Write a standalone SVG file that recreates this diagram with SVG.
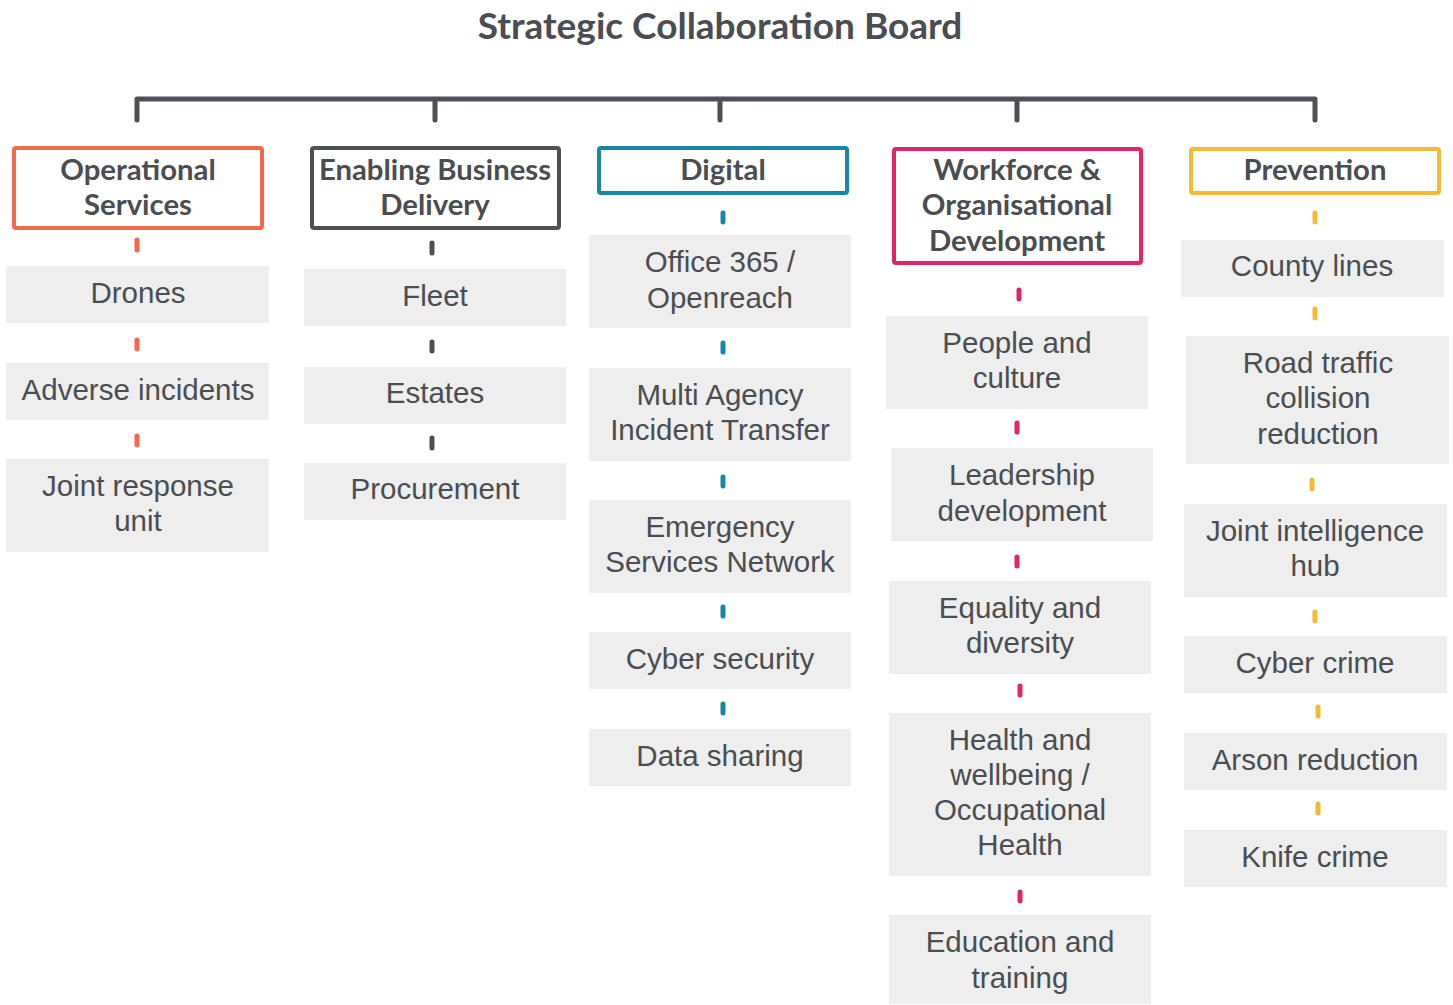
<svg xmlns="http://www.w3.org/2000/svg" width="1453" height="1005" viewBox="0 0 1453 1005">
<style>
.title{font-family:Lato,"Open Sans",sans-serif;font-weight:700;font-size:37px;fill:#4a4d51;text-anchor:middle}
.hd{font-family:Lato,"Open Sans",sans-serif;font-weight:700;font-size:29.3px;fill:#4a4d51;text-anchor:middle}
.hbox{fill:#fff;stroke-width:4}
.item{fill:#eeeeee}
.it{font-family:"Liberation Sans",Arial,sans-serif;font-size:29.5px;fill:#4a4d51;text-anchor:middle}
.dash{stroke-width:5;stroke-linecap:round;fill:none}
.c1{stroke:#f26a4b}.c2{stroke:#4d5054}.c3{stroke:#1a86a5}.c4{stroke:#e0256a}.c5{stroke:#f1ba37}
</style>
<text class="title" x="720" y="39">Strategic Collaboration Board</text>
<g id="connectors">
<path d="M137,120 V99 H1315 V120 M435,99 V120 M720,99 V120 M1017,99 V120" stroke="#4d5054" stroke-width="5" fill="none" stroke-linecap="round" stroke-linejoin="round"/>
<path class="dash c1" d="M137,240 V250 M137,340 V349 M137,436 V445"/>
<path class="dash c2" d="M432,243 V253 M432,342 V351 M432,438 V448"/>
<path class="dash c3" d="M723,213 V222 M723,343 V352 M723,477 V486 M723,607 V616 M723,704 V713"/>
<path class="dash c4" d="M1019,290 V299 M1017,423 V432 M1017,557 V566 M1020,686 V695 M1020,892 V901"/>
<path class="dash c5" d="M1315,213 V222 M1315,309 V318 M1312,480 V489 M1315,612 V621 M1318,707 V716 M1318,804 V813"/>
</g>
<g id="h1"><rect class="hbox c1" x="14" y="148" width="248" height="80" rx="2"/><text class="hd" x="138" y="180">Operational</text><text class="hd" x="138" y="215">Services</text></g>
<g id="h2"><rect class="hbox c2" x="312" y="148" width="247" height="80" rx="2"/><text class="hd" x="435" y="180">Enabling Business</text><text class="hd" x="435" y="215">Delivery</text></g>
<g id="h3"><rect class="hbox c3" x="599" y="148" width="248" height="45" rx="2"/><text class="hd" x="723" y="180">Digital</text></g>
<g id="h4"><rect class="hbox c4" x="894" y="149" width="247" height="114" rx="2"/><text class="hd" x="1017" y="180">Workforce &amp;</text><text class="hd" x="1017" y="215">Organisational</text><text class="hd" x="1017" y="251">Development</text></g>
<g id="h5"><rect class="hbox c5" x="1191" y="149" width="248" height="44" rx="2"/><text class="hd" x="1315" y="180">Prevention</text></g>

<g id="n1a"><rect class="item" x="6" y="266" width="263" height="57"/><text class="it" x="138" y="303">Drones</text></g>
<g id="n1b"><rect class="item" x="6" y="363" width="263" height="57"/><text class="it" x="138" y="400">Adverse incidents</text></g>
<g id="n1c"><rect class="item" x="6" y="459" width="263" height="93"/><text class="it" x="138" y="496">Joint response</text><text class="it" x="138" y="531">unit</text></g>

<g id="n2a"><rect class="item" x="304" y="269" width="262" height="57"/><text class="it" x="435" y="306">Fleet</text></g>
<g id="n2b"><rect class="item" x="304" y="367" width="262" height="57"/><text class="it" x="435" y="403">Estates</text></g>
<g id="n2c"><rect class="item" x="304" y="463" width="262" height="57"/><text class="it" x="435" y="499">Procurement</text></g>

<g id="n3a"><rect class="item" x="589" y="235" width="262" height="93"/><text class="it" x="720" y="272">Office 365 /</text><text class="it" x="720" y="308">Openreach</text></g>
<g id="n3b"><rect class="item" x="589" y="368" width="262" height="93"/><text class="it" x="720" y="405">Multi Agency</text><text class="it" x="720" y="440">Incident Transfer</text></g>
<g id="n3c"><rect class="item" x="589" y="500" width="262" height="93"/><text class="it" x="720" y="537">Emergency</text><text class="it" x="720" y="572">Services Network</text></g>
<g id="n3d"><rect class="item" x="589" y="632" width="262" height="57"/><text class="it" x="720" y="669">Cyber security</text></g>
<g id="n3e"><rect class="item" x="589" y="729" width="262" height="57"/><text class="it" x="720" y="766">Data sharing</text></g>

<g id="n4a"><rect class="item" x="886" y="316" width="262" height="93"/><text class="it" x="1017" y="353">People and</text><text class="it" x="1017" y="388">culture</text></g>
<g id="n4b"><rect class="item" x="891" y="448" width="262" height="93"/><text class="it" x="1022" y="485">Leadership</text><text class="it" x="1022" y="521">development</text></g>
<g id="n4c"><rect class="item" x="889" y="581" width="262" height="93"/><text class="it" x="1020" y="618">Equality and</text><text class="it" x="1020" y="653">diversity</text></g>
<g id="n4d"><rect class="item" x="889" y="713" width="262" height="163"/><text class="it" x="1020" y="750">Health and</text><text class="it" x="1020" y="785">wellbeing /</text><text class="it" x="1020" y="820">Occupational</text><text class="it" x="1020" y="855">Health</text></g>
<g id="n4e"><rect class="item" x="889" y="915" width="262" height="89"/><text class="it" x="1020" y="952">Education and</text><text class="it" x="1020" y="988">training</text></g>

<g id="n5a"><rect class="item" x="1181" y="240" width="263" height="57"/><text class="it" x="1312" y="276">County lines</text></g>
<g id="n5b"><rect class="item" x="1186" y="336" width="263" height="128"/><text class="it" x="1318" y="373">Road traffic</text><text class="it" x="1318" y="408">collision</text><text class="it" x="1318" y="444">reduction</text></g>
<g id="n5c"><rect class="item" x="1184" y="504" width="263" height="93"/><text class="it" x="1315" y="541">Joint intelligence</text><text class="it" x="1315" y="576">hub</text></g>
<g id="n5d"><rect class="item" x="1184" y="636" width="263" height="57"/><text class="it" x="1315" y="673">Cyber crime</text></g>
<g id="n5e"><rect class="item" x="1184" y="733" width="263" height="57"/><text class="it" x="1315" y="770">Arson reduction</text></g>
<g id="n5f"><rect class="item" x="1184" y="830" width="263" height="57"/><text class="it" x="1315" y="867">Knife crime</text></g>
</svg>
